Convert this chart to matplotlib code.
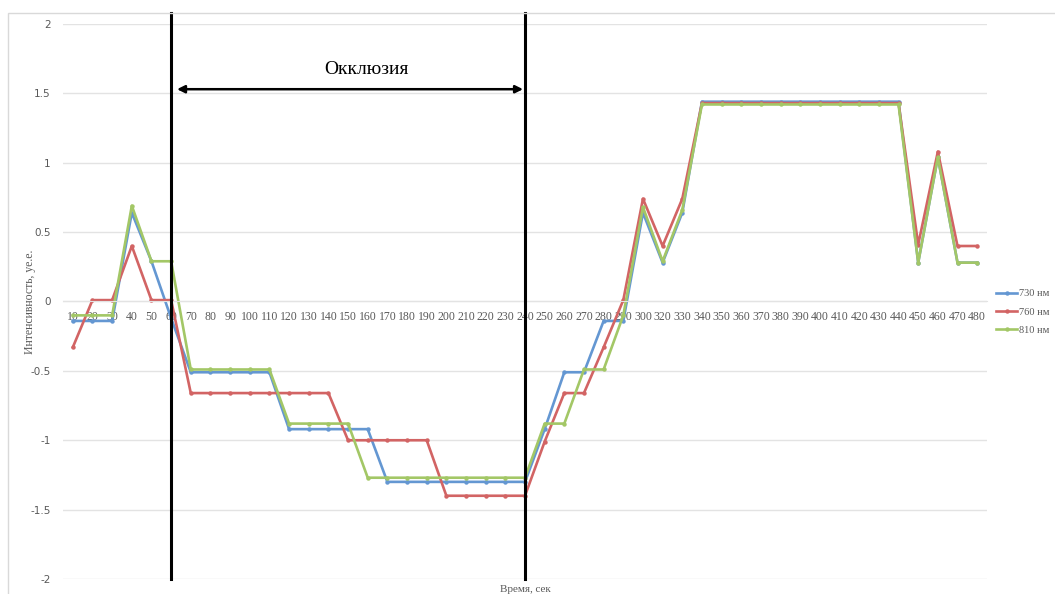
import matplotlib
matplotlib.use("Agg")
import matplotlib.pyplot as plt
from matplotlib.patches import Rectangle

# ---- data ----
times = [10, 20, 30, 40, 50, 60, 70, 80, 90, 100, 110, 120, 130, 140, 150, 160,
         170, 180, 190, 200, 210, 220, 230, 240, 250, 260, 270, 280, 290, 300,
         320, 330, 340, 350, 360, 370, 380, 390, 400, 410, 420, 430, 440, 450,
         460, 470, 480]

s730 = [-0.14, -0.14, -0.14, 0.64, 0.29, -0.12, -0.51, -0.51, -0.51, -0.51, -0.51,
        -0.92, -0.92, -0.92, -0.92, -0.92, -1.30, -1.30, -1.30, -1.30, -1.30, -1.30,
        -1.30, -1.30, -0.92, -0.51, -0.51, -0.14, -0.14, 0.64, 0.28, 0.64,
        1.44, 1.44, 1.44, 1.44, 1.44, 1.44, 1.44, 1.44, 1.44, 1.44, 1.44,
        0.28, 1.04, 0.28, 0.28]

s760 = [-0.33, 0.01, 0.01, 0.40, 0.01, 0.01, -0.66, -0.66, -0.66, -0.66, -0.66,
        -0.66, -0.66, -0.66, -1.00, -1.00, -1.00, -1.00, -1.00, -1.40, -1.40, -1.40,
        -1.40, -1.40, -1.01, -0.66, -0.66, -0.33, 0.01, 0.74, 0.40, 0.74,
        1.43, 1.43, 1.43, 1.43, 1.43, 1.43, 1.43, 1.43, 1.43, 1.43, 1.43,
        0.41, 1.08, 0.40, 0.40]

s810 = [-0.10, -0.10, -0.10, 0.69, 0.29, 0.29, -0.49, -0.49, -0.49, -0.49, -0.49,
        -0.88, -0.88, -0.88, -0.88, -1.27, -1.27, -1.27, -1.27, -1.27, -1.27, -1.27,
        -1.27, -1.27, -0.88, -0.88, -0.49, -0.49, -0.10, 0.68, 0.29, 0.66,
        1.42, 1.42, 1.42, 1.42, 1.42, 1.42, 1.42, 1.42, 1.42, 1.42, 1.42,
        0.28, 1.04, 0.28, 0.28]

series_labels = ["730 нм", "760 нм", "810 нм"]
colors = ["#6497d2", "#d26464", "#a3c766"]
yticks = [-2, -1.5, -1, -0.5, 0, 0.5, 1, 1.5, 2]
ytick_labels = ["-2", "-1.5", "-1", "-0.5", "0", "0.5", "1", "1.5", "2"]
occlusion = (60, 240)
occlusion_label = "Окклюзия"
xlabel = "Время, сек"
ylabel = "Интенсивность, уе.е."

W, H = 1055, 594
fig = plt.figure(figsize=(W / 100, H / 100), dpi=100)
fig.patches.append(Rectangle((8 / W, -0.1), 1.2, 1 - 13 / H + 0.1, transform=fig.transFigure,
                             fill=False, edgecolor="#d9d9d9", linewidth=1.0))

ax = fig.add_axes([63 / W, 1 - 579 / H, 924 / W, 555 / H])
idx = list(range(len(times)))

for ys, c in zip([s730, s760, s810], colors):
    ax.plot(idx, ys, color=c, linewidth=1.9, marker="o", markersize=3.2,
            markeredgewidth=0, solid_joinstyle="round")

ax.set_xlim(-0.5, len(times) - 0.5)
ax.set_ylim(-2, 2)
ax.set_yticks(yticks)
ax.set_yticklabels(ytick_labels)
ax.grid(axis="y", color="#e3e3e3", linewidth=1.0)
ax.set_axisbelow(True)
for s in ["top", "right", "left"]:
    ax.spines[s].set_visible(False)
ax.spines["bottom"].set_position(("data", 0))
ax.spines["bottom"].set_color("#e3e3e3")
ax.set_xticks(idx)
ax.set_xticklabels([str(t) for t in times], fontfamily="Liberation Serif",
                   fontsize=8.5, color="#595959")
ax.tick_params(axis="x", length=0, pad=7)
ax.tick_params(axis="y", length=0, pad=9, labelsize=7.5, labelcolor="#595959")

# occlusion markers
i0 = times.index(occlusion[0])
i1 = times.index(occlusion[1])
top_val = 2 + 11 / 138.75
for i in (i0, i1):
    ax.plot([i, i], [-2, top_val], color="black", linewidth=2.2, clip_on=False, zorder=5)
ax.annotate("", xy=(i0 + 0.3, 1.53), xytext=(i1 - 0.1, 1.53),
            arrowprops=dict(arrowstyle="<|-|>", color="black", lw=1.8,
                            mutation_scale=11, shrinkA=0, shrinkB=0))
ax.text((i0 + i1) / 2 + 0.95, 1.67, occlusion_label, ha="center", va="center",
        fontfamily="Liberation Serif", fontsize=14, color="black")

# axis titles
fig.text(30 / W, 1 - 302 / H, ylabel, rotation=90, ha="center", va="center",
         fontfamily="Liberation Serif", fontsize=8.5, color="#595959")
fig.text(525 / W, 1 - 590 / H, xlabel, ha="center", va="center",
         fontfamily="Liberation Serif", fontsize=8, color="#595959")

# legend
handles = ax.get_lines()[:3]
leg = fig.legend(handles, series_labels, loc="upper left",
                 bbox_to_anchor=(992 / W, 1 - 285 / H), frameon=False,
                 prop={"family": "Liberation Serif", "size": 7.5},
                 handlelength=2.0, handletextpad=0.15, labelspacing=0.85, borderaxespad=0)
for t in leg.get_texts():
    t.set_color("#595959")

fig.savefig("out.png", dpi=100)
